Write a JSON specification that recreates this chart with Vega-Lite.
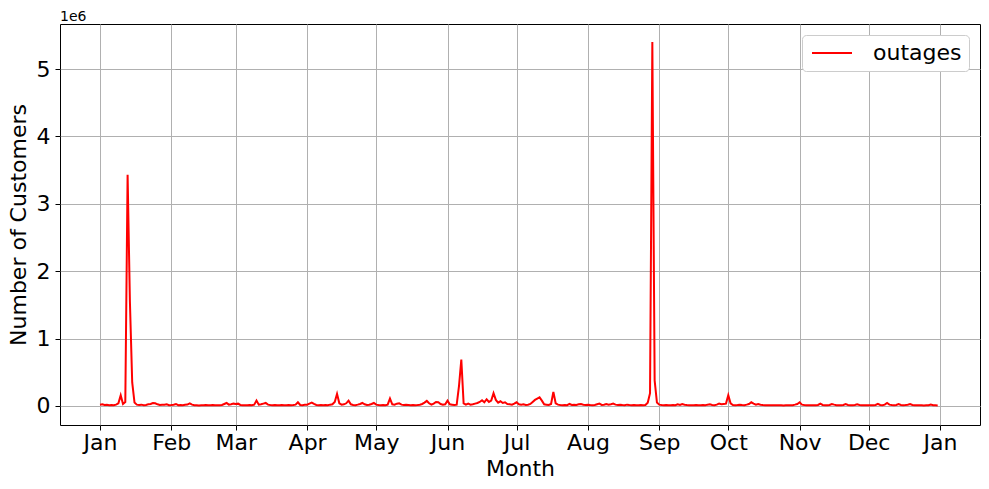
{
  "$schema": "https://vega.github.io/schema/vega-lite/v6.json",
  "autosize": {"type": "none"},
  "padding": {"left": 60, "top": 24, "right": 9, "bottom": 64},
  "width": 920,
  "height": 401,
  "background": "white",
  "config": {
    "font": "DejaVu Sans",
    "view": {"stroke": "black", "strokeWidth": 1}
  },
  "title": {"text": "1e6", "anchor": "start", "frame": "group", "fontSize": 14, "fontWeight": "normal", "font": "DejaVu Sans", "color": "black", "baseline": "alphabetic", "offset": 3, "dy": 14},
  "data": {"values": [
    {"date":"2021-01-01","outages":20000},{"date":"2021-01-02","outages":25000},{"date":"2021-01-03","outages":15000},{"date":"2021-01-04","outages":18000},{"date":"2021-01-05","outages":12000},{"date":"2021-01-06","outages":15000},{"date":"2021-01-07","outages":10000},{"date":"2021-01-08","outages":20000},{"date":"2021-01-09","outages":40000},{"date":"2021-01-10","outages":160000},{"date":"2021-01-11","outages":30000},{"date":"2021-01-12","outages":60000},{"date":"2021-01-13","outages":3430000},{"date":"2021-01-14","outages":1550000},{"date":"2021-01-15","outages":350000},{"date":"2021-01-16","outages":50000},{"date":"2021-01-17","outages":20000},{"date":"2021-01-18","outages":15000},{"date":"2021-01-19","outages":20000},{"date":"2021-01-20","outages":12000},{"date":"2021-01-21","outages":15000},{"date":"2021-01-22","outages":25000},{"date":"2021-01-23","outages":30000},{"date":"2021-01-24","outages":45000},{"date":"2021-01-25","outages":40000},{"date":"2021-01-26","outages":25000},{"date":"2021-01-27","outages":15000},{"date":"2021-01-28","outages":20000},{"date":"2021-01-29","outages":18000},{"date":"2021-01-30","outages":25000},{"date":"2021-01-31","outages":12000},
    {"date":"2021-02-01","outages":15000},{"date":"2021-02-02","outages":20000},{"date":"2021-02-03","outages":30000},{"date":"2021-02-04","outages":12000},{"date":"2021-02-05","outages":15000},{"date":"2021-02-06","outages":10000},{"date":"2021-02-07","outages":18000},{"date":"2021-02-08","outages":22000},{"date":"2021-02-09","outages":40000},{"date":"2021-02-10","outages":20000},{"date":"2021-02-11","outages":12000},{"date":"2021-02-12","outages":10000},{"date":"2021-02-13","outages":8000},{"date":"2021-02-14","outages":12000},{"date":"2021-02-15","outages":10000},{"date":"2021-02-16","outages":15000},{"date":"2021-02-17","outages":12000},{"date":"2021-02-18","outages":10000},{"date":"2021-02-19","outages":15000},{"date":"2021-02-20","outages":12000},{"date":"2021-02-21","outages":10000},{"date":"2021-02-22","outages":12000},{"date":"2021-02-23","outages":15000},{"date":"2021-02-24","outages":30000},{"date":"2021-02-25","outages":45000},{"date":"2021-02-26","outages":20000},{"date":"2021-02-27","outages":25000},{"date":"2021-02-28","outages":35000},
    {"date":"2021-03-01","outages":30000},{"date":"2021-03-02","outages":35000},{"date":"2021-03-03","outages":15000},{"date":"2021-03-04","outages":12000},{"date":"2021-03-05","outages":10000},{"date":"2021-03-06","outages":12000},{"date":"2021-03-07","outages":15000},{"date":"2021-03-08","outages":10000},{"date":"2021-03-09","outages":20000},{"date":"2021-03-10","outages":80000},{"date":"2021-03-11","outages":20000},{"date":"2021-03-12","outages":25000},{"date":"2021-03-13","outages":35000},{"date":"2021-03-14","outages":45000},{"date":"2021-03-15","outages":20000},{"date":"2021-03-16","outages":15000},{"date":"2021-03-17","outages":12000},{"date":"2021-03-18","outages":15000},{"date":"2021-03-19","outages":10000},{"date":"2021-03-20","outages":12000},{"date":"2021-03-21","outages":15000},{"date":"2021-03-22","outages":12000},{"date":"2021-03-23","outages":10000},{"date":"2021-03-24","outages":15000},{"date":"2021-03-25","outages":12000},{"date":"2021-03-26","outages":15000},{"date":"2021-03-27","outages":20000},{"date":"2021-03-28","outages":55000},{"date":"2021-03-29","outages":15000},{"date":"2021-03-30","outages":12000},{"date":"2021-03-31","outages":18000},
    {"date":"2021-04-01","outages":20000},{"date":"2021-04-02","outages":35000},{"date":"2021-04-03","outages":50000},{"date":"2021-04-04","outages":30000},{"date":"2021-04-05","outages":15000},{"date":"2021-04-06","outages":12000},{"date":"2021-04-07","outages":15000},{"date":"2021-04-08","outages":10000},{"date":"2021-04-09","outages":15000},{"date":"2021-04-10","outages":12000},{"date":"2021-04-11","outages":20000},{"date":"2021-04-12","outages":25000},{"date":"2021-04-13","outages":60000},{"date":"2021-04-14","outages":180000},{"date":"2021-04-15","outages":40000},{"date":"2021-04-16","outages":20000},{"date":"2021-04-17","outages":25000},{"date":"2021-04-18","outages":40000},{"date":"2021-04-19","outages":80000},{"date":"2021-04-20","outages":25000},{"date":"2021-04-21","outages":15000},{"date":"2021-04-22","outages":12000},{"date":"2021-04-23","outages":20000},{"date":"2021-04-24","outages":30000},{"date":"2021-04-25","outages":45000},{"date":"2021-04-26","outages":25000},{"date":"2021-04-27","outages":15000},{"date":"2021-04-28","outages":20000},{"date":"2021-04-29","outages":30000},{"date":"2021-04-30","outages":45000},
    {"date":"2021-05-01","outages":20000},{"date":"2021-05-02","outages":15000},{"date":"2021-05-03","outages":12000},{"date":"2021-05-04","outages":15000},{"date":"2021-05-05","outages":12000},{"date":"2021-05-06","outages":20000},{"date":"2021-05-07","outages":110000},{"date":"2021-05-08","outages":25000},{"date":"2021-05-09","outages":20000},{"date":"2021-05-10","outages":35000},{"date":"2021-05-11","outages":40000},{"date":"2021-05-12","outages":20000},{"date":"2021-05-13","outages":15000},{"date":"2021-05-14","outages":18000},{"date":"2021-05-15","outages":15000},{"date":"2021-05-16","outages":12000},{"date":"2021-05-17","outages":15000},{"date":"2021-05-18","outages":12000},{"date":"2021-05-19","outages":15000},{"date":"2021-05-20","outages":20000},{"date":"2021-05-21","outages":30000},{"date":"2021-05-22","outages":50000},{"date":"2021-05-23","outages":75000},{"date":"2021-05-24","outages":40000},{"date":"2021-05-25","outages":20000},{"date":"2021-05-26","outages":35000},{"date":"2021-05-27","outages":60000},{"date":"2021-05-28","outages":55000},{"date":"2021-05-29","outages":30000},{"date":"2021-05-30","outages":20000},{"date":"2021-05-31","outages":25000},
    {"date":"2021-06-01","outages":80000},{"date":"2021-06-02","outages":25000},{"date":"2021-06-03","outages":20000},{"date":"2021-06-04","outages":15000},{"date":"2021-06-05","outages":20000},{"date":"2021-06-06","outages":300000},{"date":"2021-06-07","outages":690000},{"date":"2021-06-08","outages":40000},{"date":"2021-06-09","outages":20000},{"date":"2021-06-10","outages":35000},{"date":"2021-06-11","outages":20000},{"date":"2021-06-12","outages":25000},{"date":"2021-06-13","outages":35000},{"date":"2021-06-14","outages":45000},{"date":"2021-06-15","outages":60000},{"date":"2021-06-16","outages":85000},{"date":"2021-06-17","outages":55000},{"date":"2021-06-18","outages":100000},{"date":"2021-06-19","outages":60000},{"date":"2021-06-20","outages":80000},{"date":"2021-06-21","outages":190000},{"date":"2021-06-22","outages":90000},{"date":"2021-06-23","outages":50000},{"date":"2021-06-24","outages":70000},{"date":"2021-06-25","outages":45000},{"date":"2021-06-26","outages":55000},{"date":"2021-06-27","outages":30000},{"date":"2021-06-28","outages":25000},{"date":"2021-06-29","outages":20000},{"date":"2021-06-30","outages":35000},
    {"date":"2021-07-01","outages":55000},{"date":"2021-07-02","outages":25000},{"date":"2021-07-03","outages":20000},{"date":"2021-07-04","outages":25000},{"date":"2021-07-05","outages":15000},{"date":"2021-07-06","outages":20000},{"date":"2021-07-07","outages":30000},{"date":"2021-07-08","outages":60000},{"date":"2021-07-09","outages":90000},{"date":"2021-07-10","outages":110000},{"date":"2021-07-11","outages":130000},{"date":"2021-07-12","outages":80000},{"date":"2021-07-13","outages":25000},{"date":"2021-07-14","outages":20000},{"date":"2021-07-15","outages":15000},{"date":"2021-07-16","outages":30000},{"date":"2021-07-17","outages":210000},{"date":"2021-07-18","outages":40000},{"date":"2021-07-19","outages":20000},{"date":"2021-07-20","outages":15000},{"date":"2021-07-21","outages":12000},{"date":"2021-07-22","outages":15000},{"date":"2021-07-23","outages":12000},{"date":"2021-07-24","outages":30000},{"date":"2021-07-25","outages":15000},{"date":"2021-07-26","outages":20000},{"date":"2021-07-27","outages":15000},{"date":"2021-07-28","outages":25000},{"date":"2021-07-29","outages":30000},{"date":"2021-07-30","outages":18000},{"date":"2021-07-31","outages":15000},
    {"date":"2021-08-01","outages":20000},{"date":"2021-08-02","outages":15000},{"date":"2021-08-03","outages":12000},{"date":"2021-08-04","outages":15000},{"date":"2021-08-05","outages":25000},{"date":"2021-08-06","outages":35000},{"date":"2021-08-07","outages":15000},{"date":"2021-08-08","outages":20000},{"date":"2021-08-09","outages":30000},{"date":"2021-08-10","outages":20000},{"date":"2021-08-11","outages":25000},{"date":"2021-08-12","outages":35000},{"date":"2021-08-13","outages":20000},{"date":"2021-08-14","outages":15000},{"date":"2021-08-15","outages":20000},{"date":"2021-08-16","outages":15000},{"date":"2021-08-17","outages":12000},{"date":"2021-08-18","outages":20000},{"date":"2021-08-19","outages":15000},{"date":"2021-08-20","outages":12000},{"date":"2021-08-21","outages":15000},{"date":"2021-08-22","outages":10000},{"date":"2021-08-23","outages":12000},{"date":"2021-08-24","outages":15000},{"date":"2021-08-25","outages":12000},{"date":"2021-08-26","outages":15000},{"date":"2021-08-27","outages":50000},{"date":"2021-08-28","outages":190000},{"date":"2021-08-29","outages":5400000},{"date":"2021-08-30","outages":380000},{"date":"2021-08-31","outages":50000},
    {"date":"2021-09-01","outages":20000},{"date":"2021-09-02","outages":15000},{"date":"2021-09-03","outages":12000},{"date":"2021-09-04","outages":15000},{"date":"2021-09-05","outages":10000},{"date":"2021-09-06","outages":12000},{"date":"2021-09-07","outages":15000},{"date":"2021-09-08","outages":12000},{"date":"2021-09-09","outages":25000},{"date":"2021-09-10","outages":15000},{"date":"2021-09-11","outages":30000},{"date":"2021-09-12","outages":20000},{"date":"2021-09-13","outages":15000},{"date":"2021-09-14","outages":12000},{"date":"2021-09-15","outages":10000},{"date":"2021-09-16","outages":12000},{"date":"2021-09-17","outages":15000},{"date":"2021-09-18","outages":10000},{"date":"2021-09-19","outages":12000},{"date":"2021-09-20","outages":15000},{"date":"2021-09-21","outages":12000},{"date":"2021-09-22","outages":20000},{"date":"2021-09-23","outages":25000},{"date":"2021-09-24","outages":15000},{"date":"2021-09-25","outages":12000},{"date":"2021-09-26","outages":20000},{"date":"2021-09-27","outages":35000},{"date":"2021-09-28","outages":25000},{"date":"2021-09-29","outages":30000},{"date":"2021-09-30","outages":35000},
    {"date":"2021-10-01","outages":160000},{"date":"2021-10-02","outages":40000},{"date":"2021-10-03","outages":15000},{"date":"2021-10-04","outages":12000},{"date":"2021-10-05","outages":15000},{"date":"2021-10-06","outages":20000},{"date":"2021-10-07","outages":15000},{"date":"2021-10-08","outages":12000},{"date":"2021-10-09","outages":20000},{"date":"2021-10-10","outages":30000},{"date":"2021-10-11","outages":55000},{"date":"2021-10-12","outages":35000},{"date":"2021-10-13","outages":20000},{"date":"2021-10-14","outages":30000},{"date":"2021-10-15","outages":20000},{"date":"2021-10-16","outages":15000},{"date":"2021-10-17","outages":12000},{"date":"2021-10-18","outages":10000},{"date":"2021-10-19","outages":12000},{"date":"2021-10-20","outages":10000},{"date":"2021-10-21","outages":12000},{"date":"2021-10-22","outages":10000},{"date":"2021-10-23","outages":12000},{"date":"2021-10-24","outages":10000},{"date":"2021-10-25","outages":8000},{"date":"2021-10-26","outages":10000},{"date":"2021-10-27","outages":12000},{"date":"2021-10-28","outages":10000},{"date":"2021-10-29","outages":12000},{"date":"2021-10-30","outages":20000},{"date":"2021-10-31","outages":30000},
    {"date":"2021-11-01","outages":55000},{"date":"2021-11-02","outages":20000},{"date":"2021-11-03","outages":15000},{"date":"2021-11-04","outages":12000},{"date":"2021-11-05","outages":10000},{"date":"2021-11-06","outages":12000},{"date":"2021-11-07","outages":10000},{"date":"2021-11-08","outages":12000},{"date":"2021-11-09","outages":15000},{"date":"2021-11-10","outages":35000},{"date":"2021-11-11","outages":15000},{"date":"2021-11-12","outages":12000},{"date":"2021-11-13","outages":10000},{"date":"2021-11-14","outages":15000},{"date":"2021-11-15","outages":30000},{"date":"2021-11-16","outages":20000},{"date":"2021-11-17","outages":12000},{"date":"2021-11-18","outages":10000},{"date":"2021-11-19","outages":12000},{"date":"2021-11-20","outages":15000},{"date":"2021-11-21","outages":28000},{"date":"2021-11-22","outages":15000},{"date":"2021-11-23","outages":12000},{"date":"2021-11-24","outages":10000},{"date":"2021-11-25","outages":15000},{"date":"2021-11-26","outages":25000},{"date":"2021-11-27","outages":15000},{"date":"2021-11-28","outages":12000},{"date":"2021-11-29","outages":10000},{"date":"2021-11-30","outages":12000},
    {"date":"2021-12-01","outages":12000},{"date":"2021-12-02","outages":10000},{"date":"2021-12-03","outages":12000},{"date":"2021-12-04","outages":15000},{"date":"2021-12-05","outages":32000},{"date":"2021-12-06","outages":15000},{"date":"2021-12-07","outages":12000},{"date":"2021-12-08","outages":20000},{"date":"2021-12-09","outages":45000},{"date":"2021-12-10","outages":20000},{"date":"2021-12-11","outages":15000},{"date":"2021-12-12","outages":12000},{"date":"2021-12-13","outages":15000},{"date":"2021-12-14","outages":28000},{"date":"2021-12-15","outages":15000},{"date":"2021-12-16","outages":12000},{"date":"2021-12-17","outages":15000},{"date":"2021-12-18","outages":20000},{"date":"2021-12-19","outages":30000},{"date":"2021-12-20","outages":15000},{"date":"2021-12-21","outages":12000},{"date":"2021-12-22","outages":10000},{"date":"2021-12-23","outages":12000},{"date":"2021-12-24","outages":10000},{"date":"2021-12-25","outages":8000},{"date":"2021-12-26","outages":10000},{"date":"2021-12-27","outages":12000},{"date":"2021-12-28","outages":22000},{"date":"2021-12-29","outages":12000},{"date":"2021-12-30","outages":10000},{"date":"2021-12-31","outages":8000}
  ]},
  "mark": {"type": "line", "strokeWidth": 2, "interpolate": "linear"},
  "encoding": {
    "x": {
      "field": "date", "type": "temporal",
      "scale": {"type": "utc", "domain": [{"year": 2020, "month": 12, "date": 14, "hours": 15, "utc": true}, {"year": 2022, "month": 1, "date": 18, "hours": 9, "utc": true}]},
      "axis": {
        "title": "Month", "titleFontSize": 22, "titleFontWeight": "normal", "titleColor": "black", "titlePadding": 5,
        "values": [
          {"year": 2021, "month": 1, "date": 1, "utc": true}, {"year": 2021, "month": 2, "date": 1, "utc": true},
          {"year": 2021, "month": 3, "date": 1, "utc": true}, {"year": 2021, "month": 4, "date": 1, "utc": true},
          {"year": 2021, "month": 5, "date": 1, "utc": true}, {"year": 2021, "month": 6, "date": 1, "utc": true},
          {"year": 2021, "month": 7, "date": 1, "utc": true}, {"year": 2021, "month": 8, "date": 1, "utc": true},
          {"year": 2021, "month": 9, "date": 1, "utc": true}, {"year": 2021, "month": 10, "date": 1, "utc": true},
          {"year": 2021, "month": 11, "date": 1, "utc": true}, {"year": 2021, "month": 12, "date": 1, "utc": true},
          {"year": 2022, "month": 1, "date": 1, "utc": true}
        ],
        "labelExpr": "utcFormat(datum.value, '%b')",
        "labelFontSize": 22, "labelColor": "black", "labelPadding": 2, "labelFlush": false, "labelOverlap": false,
        "tickSize": 5, "tickColor": "black", "tickWidth": 1,
        "domain": false, "grid": true, "gridColor": "#b0b0b0", "gridWidth": 1
      }
    },
    "y": {
      "field": "outages", "type": "quantitative",
      "scale": {"domain": [-282000, 5668000], "nice": false, "zero": false},
      "axis": {
        "title": "Number of Customers", "titleFontSize": 22, "titleFontWeight": "normal", "titleColor": "black", "titlePadding": 6,
        "values": [0, 1000000, 2000000, 3000000, 4000000, 5000000],
        "labelExpr": "format(datum.value / 1000000, 'd')",
        "labelFontSize": 22, "labelColor": "black", "labelPadding": 5, "labelFlush": false,
        "tickSize": 5, "tickColor": "black", "tickWidth": 1,
        "domain": false, "grid": true, "gridColor": "#b0b0b0", "gridWidth": 1
      }
    },
    "color": {
      "datum": "outages",
      "scale": {"range": ["red"]},
      "legend": {
        "title": null, "orient": "top-right", "offset": 11,
        "symbolType": "M-2,0H2", "symbolSize": 400, "symbolStrokeWidth": 2, "symbolOffset": 12,
        "labelFontSize": 22, "labelColor": "black", "labelOffset": 30,
        "padding": 7, "strokeColor": "#cccccc", "fillColor": "white", "cornerRadius": 4
      }
    }
  }
}
